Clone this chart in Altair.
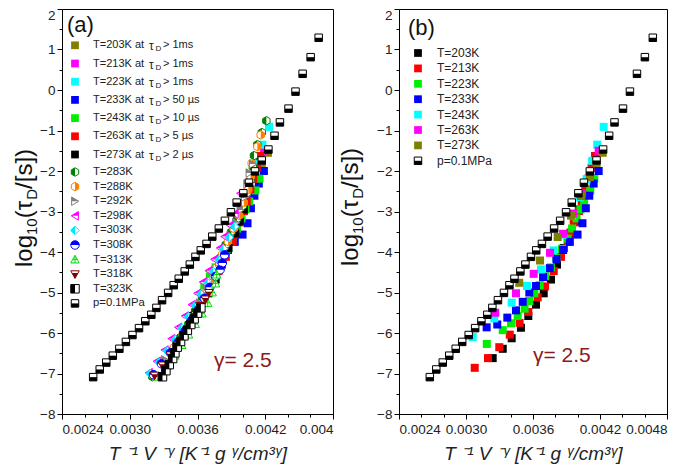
import altair as alt
import pandas as pd

# ---------------- axis ticks ----------------
X_TICKS = [0.0024, 0.0030, 0.0036, 0.0042, 0.0048]
X_MINOR = [0.0026, 0.0028, 0.0032, 0.0034, 0.0038, 0.0040, 0.0044, 0.0046]
Y_TICKS = [-8, -7, -6, -5, -4, -3, -2, -1, 0, 1]
Y_TOP_TICK = [2]
Y_MINOR = [-7.5, -6.5, -5.5, -4.5, -3.5, -2.5, -1.5, -0.5, 0.5, 1.5]

# ---------------- isobar p = 0.1 MPa (both panels) ----------------
P01_X = [0.002676, 0.002734, 0.002792, 0.002850, 0.002908, 0.002966, 0.003024, 0.003082, 0.003138, 0.003191,
         0.003236, 0.003286, 0.003340, 0.003389, 0.003434, 0.003487, 0.003532, 0.003582, 0.003629, 0.003680,
         0.003731, 0.003789, 0.003843, 0.003896, 0.003947, 0.004006, 0.004056, 0.004109, 0.004169, 0.004228,
         0.004282, 0.004330, 0.004406, 0.004468, 0.004531, 0.004602, 0.004673]
P01_Y = [-7.09, -6.90, -6.73, -6.56, -6.39, -6.22, -6.05, -5.88, -5.71, -5.55,
         -5.38, -5.19, -5.01, -4.82, -4.66, -4.48, -4.31, -4.12, -3.96, -3.80,
         -3.62, -3.42, -3.23, -3.02, -2.78, -2.55, -2.29, -2.01, -1.74, -1.47,
         -1.13, -0.80, -0.46, -0.04, 0.40, 0.81, 1.29]

# ---------------- low-temperature isotherms (panel b labels) ----------------
B203_X = [0.003239, 0.003329, 0.003409, 0.003492, 0.003558, 0.003627, 0.003696, 0.003761, 0.003815, 0.003875,
          0.003934, 0.003975, 0.004010]
B203_Y = [-6.62, -6.39, -6.13, -5.87, -5.58, -5.30, -5.02, -4.68, -4.31, -3.90, -3.55, -3.25, -2.95]
B213_X = [0.003078, 0.003197, 0.003298, 0.003392, 0.003480, 0.003558, 0.003642, 0.003708, 0.003786, 0.003851,
          0.003911, 0.003935, 0.003965, 0.004012, 0.004036, 0.004068, 0.004095, 0.004125, 0.004155]
B213_Y = [-6.86, -6.62, -6.35, -6.04, -5.75, -5.48, -5.12, -4.85, -4.47, -4.12,
          -3.75, -3.52, -3.27, -2.99, -2.74, -2.45, -2.19, -1.92, -1.63]
B223_X = [0.003186, 0.003329, 0.003403, 0.003463, 0.003525, 0.003567, 0.003612, 0.003660, 0.003710, 0.003760,
          0.003810, 0.003860, 0.003910, 0.003950, 0.003990, 0.004025, 0.004058, 0.004113, 0.004149]
B223_Y = [-6.27, -5.93, -5.76, -5.58, -5.40, -5.21, -5.02, -4.82, -4.60, -4.38,
          -4.15, -3.92, -3.67, -3.42, -3.17, -2.95, -2.75, -2.48, -2.19]
B233_X = [0.003185, 0.003280, 0.003370, 0.003448, 0.003508, 0.003567, 0.003627, 0.003690, 0.003750, 0.003810,
          0.003870, 0.003930, 0.003999, 0.004043, 0.004073, 0.004104, 0.004143, 0.004188]
B233_Y = [-5.86, -5.79, -5.62, -5.44, -5.23, -5.00, -4.84, -4.62, -4.40, -4.17,
          -3.95, -3.75, -3.57, -3.29, -2.92, -2.61, -2.31, -2.00]
B243_X = [0.003060, 0.003253, 0.003409, 0.003546, 0.003671, 0.003785, 0.003870, 0.003950, 0.004020, 0.004080,
          0.004130, 0.004175, 0.004233]
B243_Y = [-6.10, -5.64, -5.25, -4.84, -4.43, -3.96, -3.57, -3.10, -2.65, -2.20, -1.75, -1.35, -0.91]
B263_X = [0.003262, 0.003448, 0.003606, 0.003752, 0.003870, 0.003960, 0.004040, 0.004110, 0.004188]
B263_Y = [-5.50, -5.02, -4.54, -4.02, -3.55, -3.05, -2.55, -2.02, -1.50]
B273_X = [0.003477, 0.003663, 0.003821, 0.003940, 0.004030, 0.004110, 0.004170, 0.004224]
B273_Y = [-4.76, -4.21, -3.63, -3.10, -2.62, -2.15, -1.80, -1.55]

# ---------------- high-temperature isotherms (panel a) ----------------
T283_X = [0.00320, 0.00329, 0.00338, 0.00345, 0.00352, 0.00358, 0.00364, 0.00370, 0.00375, 0.00380, 0.00385,
          0.00390, 0.00395, 0.00400, 0.00404, 0.00407, 0.00409, 0.00410, 0.00413, 0.00417, 0.00421]
T283_Y = [-7.08, -6.75, -6.42, -6.10, -5.78, -5.45, -5.12, -4.80, -4.47, -4.15, -3.82,
          -3.50, -3.18, -2.86, -2.54, -2.22, -1.90, -1.62, -1.35, -1.05, -0.76]
T288_X = [0.00321, 0.00330, 0.00339, 0.00347, 0.00354, 0.00360, 0.00366, 0.00372, 0.00377, 0.00382,
          0.00387, 0.00392, 0.00397, 0.00401, 0.00405, 0.00407, 0.00408, 0.00413, 0.00416]
T288_Y = [-7.05, -6.70, -6.36, -6.02, -5.68, -5.35, -5.02, -4.70, -4.38, -4.06,
          -3.74, -3.42, -3.10, -2.78, -2.46, -2.13, -1.81, -1.40, -1.11]
T292_X = [0.00322, 0.00331, 0.00341, 0.00349, 0.00355, 0.00362, 0.00368, 0.00374, 0.00379, 0.00384,
          0.00389, 0.00394, 0.00398, 0.00402, 0.00404, 0.00406, 0.00409]
T292_Y = [-7.02, -6.66, -6.30, -5.95, -5.60, -5.26, -4.92, -4.58, -4.25, -3.92,
          -3.60, -3.28, -2.96, -2.64, -2.32, -2.05, -1.83]
T298_X = [0.00317, 0.00324, 0.00331, 0.00337, 0.00343, 0.00349, 0.00355, 0.00360, 0.00365, 0.00370,
          0.00375, 0.00380, 0.00384, 0.00389, 0.00393, 0.00396, 0.00398]
T298_Y = [-6.98, -6.70, -6.42, -6.14, -5.86, -5.58, -5.30, -5.02, -4.74, -4.46,
          -4.18, -3.90, -3.62, -3.34, -3.06, -2.80, -2.55]
T303_X = [0.00318, 0.00326, 0.00333, 0.00340, 0.00346, 0.00352, 0.00358, 0.00363, 0.00369, 0.00374,
          0.00379, 0.00383, 0.00388, 0.00393]
T303_Y = [-7.00, -6.72, -6.44, -6.16, -5.88, -5.60, -5.32, -5.04, -4.76, -4.48, -4.20, -3.92, -3.64, -3.37]
T308_X = [0.00321, 0.00328, 0.00336, 0.00343, 0.00349, 0.00355, 0.00361, 0.00366, 0.00371, 0.00376,
          0.00380, 0.00382, 0.00384]
T308_Y = [-7.03, -6.76, -6.49, -6.22, -5.95, -5.68, -5.41, -5.14, -4.87, -4.60, -4.44, -4.27, -4.07]
T313_X = [0.00325, 0.00333, 0.00340, 0.00346, 0.00352, 0.00358, 0.00364, 0.00369, 0.00373, 0.00376, 0.00377]
T313_Y = [-7.08, -6.82, -6.56, -6.30, -6.04, -5.78, -5.52, -5.26, -5.00, -4.78, -4.56]
T318_X = [0.00322, 0.00329, 0.00336, 0.00342, 0.00348, 0.00353, 0.00358, 0.00362, 0.00367, 0.00370]
T318_Y = [-7.05, -6.80, -6.55, -6.30, -6.05, -5.80, -5.55, -5.33, -5.17, -5.01]
T323_X = [0.00329, 0.00332, 0.00335, 0.00338, 0.00340, 0.00342, 0.00345, 0.00348, 0.00351, 0.00354,
          0.00357, 0.00360, 0.00363]
T323_Y = [-7.08, -6.93, -6.78, -6.63, -6.49, -6.35, -6.21, -6.07, -5.93, -5.79, -5.65, -5.51, -5.38]

# ---------------- labels ----------------
A_LOW_LABELS = ["T=203K at", "T=213K at", "T=223K at", "T=233K at", "T=243K at", "T=263K at", "T=273K at"]
A_LOW_CUTS = ["> 1ms", "> 1ms", "> 1ms", "> 50 \u00b5s", "> 10 \u00b5s", "> 5 \u00b5s", "> 2 \u00b5s"]
A_LOW_LIMITS = [-3.0, -3.0, -3.0, -4.3, -5.0, -5.3, -5.7]
A_HIGH_LABELS = ["T=283K", "T=288K", "T=292K", "T=298K", "T=303K", "T=308K", "T=313K", "T=318K", "T=323K"]
B_LABELS = ["T=203K", "T=213K", "T=223K", "T=233K", "T=243K", "T=263K", "T=273K"]
P_LABEL = "p=0.1MPa"
GAMMA_TEXT = "\u03b3= 2.5"
X_TITLE = "T \u207b\u00b9 V \u207b\u1d5e [K\u207b\u00b9 g \u1d5e/cm\u00b3\u1d5e]"

# ---------------- styling ----------------
F = "Liberation Sans, Arial, Helvetica, sans-serif"
B_COLORS = ["#000000", "#ff0000", "#00ee00", "#0000ff", "#00ffff", "#ff00ff", "#808000"]
A_LOW_COLORS = ["#808000", "#ff00ff", "#00ffff", "#0000ff", "#00ee00", "#ff0000", "#000000"]

SQ = "M-1,-1L1,-1L1,1L-1,1Z"
SQ_L = "M-1,-1L0,-1L0,1L-1,1Z"
SQ_B = "M-1,0L1,0L1,1L-1,1Z"
HEX = "M0,-1L0.87,-0.5L0.87,0.5L0,1L-0.87,0.5L-0.87,-0.5Z"
HEX_L = "M0,-1L-0.87,-0.5L-0.87,0.5L0,1Z"
HEX_R = "M0,-1L0.87,-0.5L0.87,0.5L0,1Z"
TRI_R = "M-0.8,-1L0.9,0L-0.8,1Z"
TRI_R_TOP = "M-0.8,-1L0.9,0L-0.8,0Z"
TRI_L = "M0.8,-1L-0.9,0L0.8,1Z"
TRI_L_TOP = "M0.8,-1L-0.9,0L0.8,0Z"
DIA = "M0,-1L1,0L0,1L-1,0Z"
DIA_L = "M0,-1L0,1L-1,0Z"
CIR = "M-1,0A1,1,0,1,1,1,0A1,1,0,1,1,-1,0Z"
CIR_T = "M-1,0A1,1,0,0,1,1,0Z"
TRI_U = "M0,-1L1,0.8L-1,0.8Z"
CROSS = "M0,-1L0,0.8M-0.55,-0.05L0.55,-0.05"
TRI_D = "M-1,-0.8L1,-0.8L0,1Z"
TRI_D_BOT = "M-0.72,-0.3L0.72,-0.3L0,1Z"

A_HIGH_STYLES = [
    ("half", HEX, HEX_L, "#008000"),
    ("half", HEX, HEX_R, "#ff8000"),
    ("half", TRI_R, TRI_R_TOP, "#808080"),
    ("half", TRI_L, TRI_L_TOP, "#ff00ff"),
    ("half", DIA, DIA_L, "#00e5ff"),
    ("half", CIR, CIR_T, "#0000ff"),
    ("cross", TRI_U, CROSS, "#00dd00"),
    ("half", TRI_D, TRI_D_BOT, "#800000"),
    ("half", SQ, SQ_L, "#000000"),
]
P_STYLE = ("half", SQ, SQ_B, "#000000")

XS = alt.Scale(domain=[0.0024, 0.0048], nice=False, zero=False)
YS = alt.Scale(domain=[-8, 2], nice=False, zero=False)
H = 405


def enc_data():
    return dict(x=alt.X("x:Q", scale=XS, axis=None), y=alt.Y("y:Q", scale=YS, axis=None))


def enc_pix():
    return dict(x=alt.X("px:Q", scale=None, axis=None), y=alt.Y("py:Q", scale=None, axis=None))


def solid_layers(df, color, enc, size=64):
    return [alt.Chart(df).mark_point(shape="square", filled=True, fill=color, color=color,
                                     strokeWidth=0, size=size, opacity=1).encode(**enc())]


def styled_layers(df, style, enc, size=72):
    kind, full, part, color = style
    out = [alt.Chart(df).mark_point(shape=full, filled=True, fill="white", stroke=color,
                                    strokeWidth=1, size=size, opacity=1).encode(**enc())]
    if kind == "half":
        out.append(alt.Chart(df).mark_point(shape=part, filled=True, fill=color, color=color,
                                            strokeWidth=0, size=size, opacity=1).encode(**enc()))
    else:
        out.append(alt.Chart(df).mark_point(shape=part, filled=False, stroke=color,
                                            strokeWidth=1, size=size, opacity=1).encode(**enc()))
    return out


def pts(xs, ys):
    return pd.DataFrame({"x": xs, "y": ys})


def pix(px, py):
    return pd.DataFrame({"px": [px], "py": [py]})


def axis_layers(last_label=None):
    ax_df = pd.DataFrame({"x": [0.0024], "y": [-8.0]})
    lab_expr = "datum.label"
    if last_label:
        lab_expr = "datum.value > 0.0047 ? '%s' : datum.label" % last_label
    common_y = dict(orient="left", tickSize=5, tickColor="black", tickWidth=1, grid=False,
                    labelFont=F, labelFontSize=13.5, labelColor="#222", labelPadding=2,
                    labelOverlap=False, title=None)
    major = alt.Chart(ax_df).mark_point(opacity=0).encode(
        x=alt.X("x:Q", scale=XS, axis=alt.Axis(
            values=X_TICKS, format=".4f", orient="bottom", tickSize=5, tickColor="black",
            tickWidth=1, domainColor="black", domainWidth=1, grid=False, labelFont=F,
            labelFontSize=13.5, labelColor="#222", labelPadding=3, labelExpr=lab_expr,
            labelOverlap=False, title=X_TITLE, titleFont=F, titleFontSize=19,
            titleFontStyle="italic", titleFontWeight="normal", titleColor="#222", titlePadding=9)),
        y=alt.Y("y:Q", scale=YS, axis=alt.Axis(values=Y_TICKS, format="d", domainColor="black",
                                               domainWidth=1, **common_y)),
    )
    top = alt.Chart(ax_df).mark_point(opacity=0).encode(
        y=alt.Y("y:Q", scale=YS, axis=alt.Axis(values=Y_TOP_TICK, format="d", domain=False,
                                               labelOffset=6, **common_y)),
    )
    minor = alt.Chart(ax_df).mark_point(opacity=0).encode(
        x=alt.X("x:Q", scale=XS, axis=alt.Axis(
            values=X_MINOR, labels=False, orient="bottom", tickSize=3, tickColor="black",
            domain=False, grid=False, title=None)),
        y=alt.Y("y:Q", scale=YS, axis=alt.Axis(
            values=Y_MINOR, labels=False, orient="left", tickSize=3, tickColor="black",
            domain=False, grid=False, title=None)),
    )
    return [major, top, minor]


def ytitle_layer(x0, ystart):
    pieces = [("log", 24, 0, 32.0), ("10", 15, 5, 16.7), ("(", 24, 0, 8.0),
              ("\u03c4", 24, 0, 10.6), ("D", 15, 5, 10.8), (" /[s])", 24, 0, 46.7)]
    rows = []
    cur = ystart
    for t, fs, dx, w in pieces:
        rows.append({"t": t, "fs": fs, "px": x0 + dx, "py": cur})
        cur -= w
    df = pd.DataFrame(rows)
    return alt.Chart(df).mark_text(angle=270, align="left", baseline="alphabetic", font=F,
                                   color="#111").encode(
        x=alt.X("px:Q", scale=None, axis=None), y=alt.Y("py:Q", scale=None, axis=None),
        text="t:N", size=alt.Size("fs:Q", scale=None))


def text_layer(txt, px, py, size, color="#111", font=F, align="left", baseline="alphabetic"):
    df = pd.DataFrame({"px": [px], "py": [py], "t": [txt]})
    return alt.Chart(df).mark_text(align=align, baseline=baseline, font=font, fontSize=size,
                                   color=color).encode(**enc_pix(), text="t:N")


# ---------------- panel (a) ----------------
b_x = [B203_X, B213_X, B223_X, B233_X, B243_X, B263_X, B273_X]
b_y = [B203_Y, B213_Y, B223_Y, B233_Y, B243_Y, B263_Y, B273_Y]
a_high_x = [T283_X, T288_X, T292_X, T298_X, T303_X, T308_X, T313_X, T318_X, T323_X]
a_high_y = [T283_Y, T288_Y, T292_Y, T298_Y, T303_Y, T308_Y, T313_Y, T318_Y, T323_Y]

WA = 271
la = axis_layers(last_label="0.004")
# invisible anchor fixing the left edge of the figure
la.append(alt.Chart(pix(-53, 0)).mark_rule(opacity=0).encode(
    x=alt.X("px:Q", scale=None, axis=None), y=alt.Y("py:Q", scale=None, axis=None),
    y2=alt.value(5)))
la.append(ytitle_layer(-30, 258))
# low-temperature data above their cut-off, same colours as in panel (b)
for i in range(7):
    j = 6 - i  # same colour series in panel (b)
    df = pts(b_x[j], b_y[j])
    df = df[df["y"] > A_LOW_LIMITS[i]]
    if len(df):
        la += solid_layers(df, A_LOW_COLORS[i], enc_data)
for xs, ys, st in zip(a_high_x, a_high_y, A_HIGH_STYLES):
    la += styled_layers(pts(xs, ys), st, enc_data)
la += styled_layers(pts(P01_X, P01_Y), P_STYLE, enc_data, size=56)

# legend of panel (a)
for i in range(7):
    yy = 36.3 + 18.2 * i
    la += solid_layers(pix(13, yy), A_LOW_COLORS[i], enc_pix, size=60)
    la.append(text_layer(A_LOW_LABELS[i], 31, yy, 11, baseline="middle", color="#222"))
    la.append(text_layer("\u03c4", 87, yy + 1, 12, baseline="middle", color="#222"))
    la.append(text_layer("D", 93.5, yy + 4, 8, baseline="middle", color="#222"))
    la.append(text_layer(A_LOW_CUTS[i], 101, yy, 11, baseline="middle", color="#222"))
for k, (lab, st) in enumerate(zip(A_HIGH_LABELS + [P_LABEL], A_HIGH_STYLES + [P_STYLE])):
    yy = 163 + 14.6 * k
    la += styled_layers(pix(13, yy), st, enc_pix, size=72 if k < 9 else 56)
    la.append(text_layer(lab, 31, yy, 11.3, baseline="middle", color="#222"))
la.append(text_layer("(a)", 5, 23, 22))
la.append(text_layer(GAMMA_TEXT, 152, 358, 21, color="#8B1A1A"))

panel_a = alt.layer(*la).resolve_axis(x="independent", y="independent").properties(width=WA, height=H)

# ---------------- panel (b) ----------------
WB = 268
lb = axis_layers()
lb.append(ytitle_layer(-41, 257))
for j in range(7):
    lb += solid_layers(pts(b_x[j], b_y[j]), B_COLORS[j], enc_data)
lb += styled_layers(pts(P01_X, P01_Y), P_STYLE, enc_data, size=56)
for j in range(7):
    yy = 44 + 15.4 * j
    lb += solid_layers(pix(19, yy), B_COLORS[j], enc_pix, size=60)
    lb.append(text_layer(B_LABELS[j], 38, yy, 12, baseline="middle", color="#222"))
yy = 44 + 15.4 * 7
lb += styled_layers(pix(19, yy), P_STYLE, enc_pix, size=56)
lb.append(text_layer(P_LABEL, 38, yy, 12, baseline="middle", color="#222"))
lb.append(text_layer("(b)", 9, 26, 22))
lb.append(text_layer(GAMMA_TEXT, 134, 353, 21, color="#8B1A1A"))

panel_b = alt.layer(*lb).resolve_axis(x="independent", y="independent").properties(width=WB, height=H)

chart = alt.hconcat(panel_a, panel_b, spacing=66, bounds="flush").properties(
    padding={"left": 0, "top": -1, "right": 0, "bottom": 0}
).configure(font=F).configure_view(stroke="black", strokeWidth=1)

chart.save("out.html", embed_options={"renderer": "svg", "actions": False})
